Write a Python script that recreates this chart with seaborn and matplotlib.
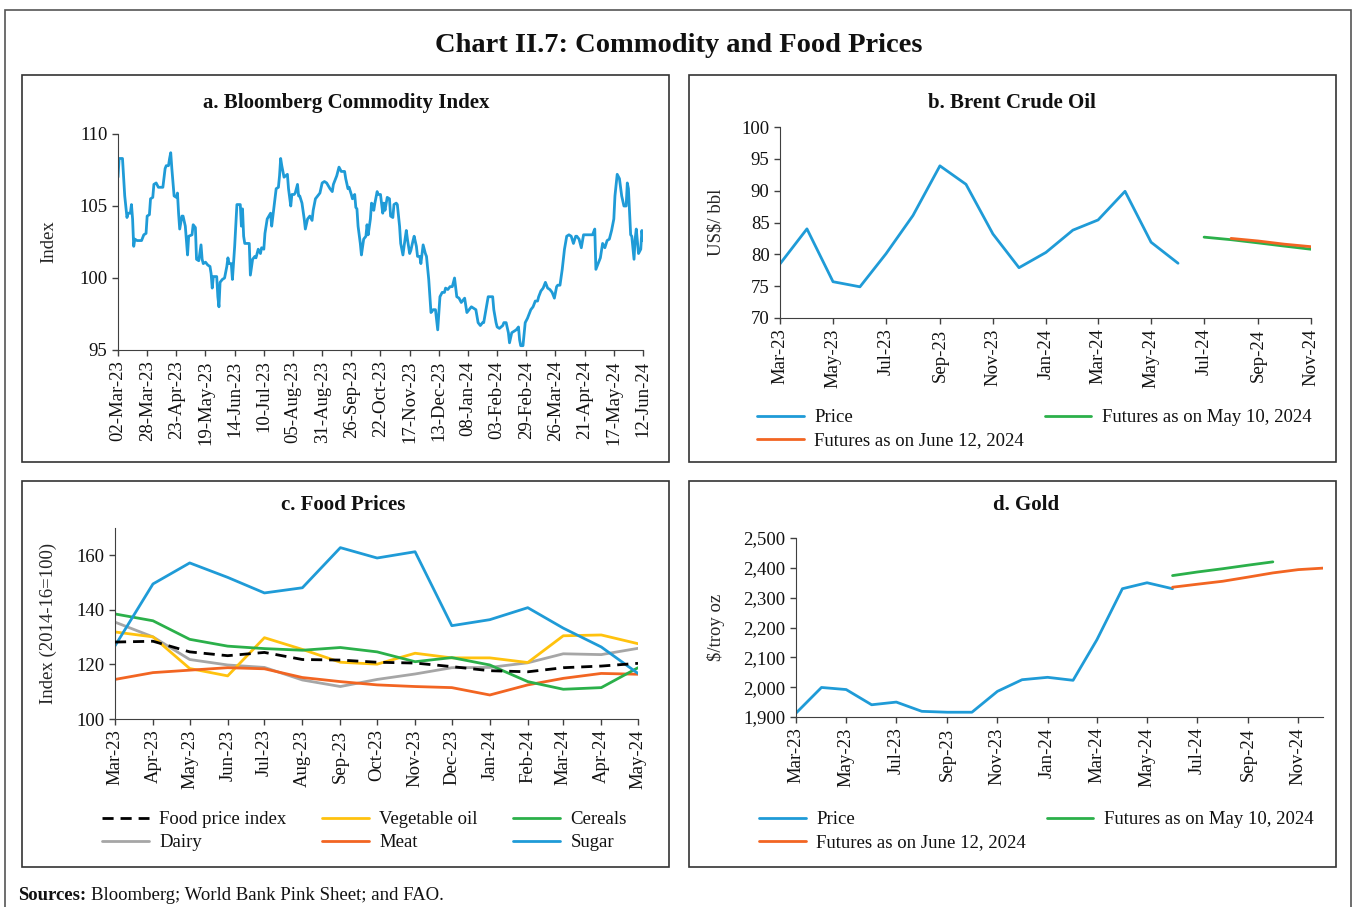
import matplotlib
matplotlib.use("Agg")
import matplotlib.pyplot as plt
import matplotlib.dates as mdates
from matplotlib.ticker import StrMethodFormatter
from matplotlib.patches import Rectangle
import seaborn as sns
import pandas as pd
import numpy as np

# ---------------- data ----------------
# a. Bloomberg Commodity Index (days after 02-Mar-2023, index value)
bci_days = [0, 1, 4, 6, 8, 9, 11, 12, 13, 14, 15, 17, 21, 23, 25, 26, 28, 29, 31, 32,
            34, 36, 40, 42, 43, 45, 46, 47, 48, 50, 52, 53, 54, 55, 57, 58, 60, 62, 63, 66,
            67, 69, 70, 72, 74, 75, 76, 78, 80, 82, 83, 84, 85, 88, 89, 90, 91, 93, 95, 97,
            98, 99, 101, 102, 104, 106, 109, 110, 111, 112, 113, 117, 118, 120, 122, 123, 125, 127, 128, 130,
            131, 133, 136, 137, 139, 141, 143, 144, 145, 146, 148, 151, 152, 154, 155, 157, 158, 160, 161, 162,
            164, 166, 167, 169, 171, 173, 174, 176, 178, 180, 182, 184, 186, 189, 191, 192, 194, 195, 197, 199,
            202, 203, 205, 206, 208, 209, 211, 212, 213, 214, 216, 217, 219, 221, 222, 223, 225, 226, 227, 228,
            229, 231, 232, 234, 236, 237, 238, 240, 242, 243, 245, 246, 248, 249, 251, 252, 254, 255, 257, 258,
            260, 261, 263, 264, 266, 267, 269, 270, 272, 274, 275, 277, 279, 281, 283, 285, 287, 289, 291, 292,
            294, 296, 298, 300, 302, 304, 306, 308, 309, 311, 313, 315, 317, 319, 321, 323, 325, 326, 328, 330,
            332, 334, 335, 337, 338, 340, 343, 344, 346, 348, 349, 351, 353, 355, 357, 358, 359, 361, 363, 365,
            366, 368, 370, 372, 374, 375, 377, 379, 381, 383, 385, 387, 389, 391, 392, 394, 396, 398, 400, 402,
            404, 406, 408, 409, 411, 413, 415, 417, 419, 421, 423, 425, 426, 428, 430, 432, 434, 436, 438, 440,
            442, 443, 445, 447, 449, 451, 453, 454, 455, 457, 458, 460, 461, 462, 464, 466, 467, 468]
bci_values = [107.0, 108.3, 108.3, 105.7, 104.2, 104.5, 104.5, 105.1, 104.1, 102.2, 102.7, 102.6, 102.6, 103.0, 103.1, 104.3, 104.4, 105.5, 105.6, 106.5,
              106.6, 106.3, 106.3, 107.6, 107.8, 107.8, 108.3, 108.7, 107.6, 105.7, 105.6, 105.9, 104.5, 103.4, 104.3, 104.3, 103.6, 101.6, 102.9, 103.0,
              103.7, 103.5, 101.3, 101.2, 102.3, 101.3, 101.0, 101.1, 100.9, 100.8, 100.3, 99.3, 100.1, 100.1, 98.7, 98.0, 99.7, 99.9, 100.0, 100.8,
              101.4, 101.0, 101.0, 99.9, 102.2, 105.1, 105.1, 103.6, 104.8, 102.9, 102.4, 102.4, 100.2, 101.3, 101.5, 101.4, 102.0, 101.7, 102.1, 102.0,
              103.1, 104.1, 104.5, 103.6, 104.9, 106.2, 106.3, 107.1, 108.3, 107.8, 107.0, 107.2, 106.2, 105.0, 105.8, 105.8, 105.9, 106.5, 105.7, 105.7,
              105.2, 104.1, 103.4, 104.1, 104.3, 104.0, 104.7, 105.5, 105.7, 105.9, 106.6, 106.7, 106.6, 106.2, 106.0, 106.5, 106.9, 107.1, 107.7, 107.4,
              107.4, 106.9, 106.2, 106.3, 105.8, 105.5, 105.8, 104.9, 104.8, 103.6, 102.4, 101.6, 102.7, 102.9, 103.7, 103.0, 104.1, 105.2, 105.1, 104.7,
              105.2, 106.0, 105.8, 105.8, 104.5, 105.2, 104.7, 105.6, 105.5, 104.3, 104.2, 105.1, 105.2, 105.1, 103.6, 102.4, 101.6, 102.2, 103.3, 102.7,
              101.7, 101.9, 102.6, 102.9, 102.2, 101.5, 101.5, 101.0, 102.3, 101.7, 101.5, 99.9, 97.6, 97.8, 97.8, 96.4, 98.7, 99.0, 99.0, 99.3,
              99.2, 99.4, 99.4, 100.0, 98.7, 98.6, 98.3, 98.5, 98.6, 97.6, 97.8, 98.0, 97.9, 97.8, 96.9, 96.7, 96.9, 96.9, 97.8, 98.7,
              98.7, 98.7, 97.8, 96.9, 96.6, 96.5, 96.7, 96.9, 96.9, 96.2, 95.5, 96.2, 96.3, 96.4, 96.6, 95.7, 95.3, 95.3, 96.9, 97.2,
              97.4, 97.8, 98.0, 98.4, 98.4, 98.7, 99.1, 99.3, 99.7, 99.3, 99.2, 99.0, 98.6, 99.4, 99.5, 99.5, 100.6, 102.0, 102.9, 103.0,
              102.9, 102.4, 102.9, 102.9, 102.7, 102.1, 103.0, 103.0, 103.0, 103.0, 103.0, 103.4, 100.6, 101.0, 101.4, 102.4, 102.1, 102.6, 102.7, 103.3,
              104.1, 105.7, 107.2, 106.9, 105.7, 105.0, 105.0, 106.6, 106.2, 103.0, 102.9, 101.3, 102.7, 103.4, 101.7, 102.0, 103.3, 102.6]

# b. Brent crude oil, monthly Mar-23 .. Jun-24 (US$/bbl)
brent_price = [78.5, 84.0, 75.7, 74.9, 80.1, 86.1, 93.9, 91.0, 83.2, 77.9, 80.3, 83.8, 85.4, 89.9, 81.9, 78.6]
brent_fut_may = [82.7, 82.3, 81.8, 81.3, 80.8]      # Jul-24 .. Nov-24
brent_fut_jun = [82.5, 82.1, 81.6, 81.2]            # Aug-24 .. Nov-24

# c. Food prices, monthly Mar-23 .. May-24 (2014-16=100)
food_index = [128.2, 128.5, 124.6, 123.2, 124.4, 121.8, 121.6, 120.8, 120.5, 119.2, 117.7, 117.3, 118.8, 119.4, 120.4]
veg_oil = [131.9, 130.1, 118.5, 115.8, 129.8, 125.5, 120.8, 120.1, 124.1, 122.4, 122.4, 120.7, 130.5, 130.8, 127.6]
cereals = [138.5, 136.0, 129.2, 126.7, 125.8, 125.2, 126.2, 124.6, 121.0, 122.5, 119.8, 113.7, 110.9, 111.5, 118.8]
dairy = [135.5, 130.1, 121.8, 119.8, 118.9, 114.3, 111.9, 114.5, 116.5, 118.8, 118.9, 120.6, 123.9, 123.6, 125.9]
meat = [114.5, 117.0, 117.9, 118.8, 118.4, 115.2, 113.7, 112.5, 111.9, 111.5, 108.8, 112.5, 114.9, 116.7, 116.4]
sugar = [126.8, 149.5, 157.2, 151.9, 146.2, 148.1, 162.8, 159.0, 161.3, 134.2, 136.4, 140.8, 133.3, 126.4, 116.7]

# d. Gold, monthly Mar-23 .. Jun-24 ($/troy oz)
gold_price = [1913, 1999, 1992, 1941, 1950, 1919, 1916, 1916, 1986, 2025, 2033, 2023, 2159, 2330, 2350, 2330]
gold_fut_may = [2374, 2386, 2397, 2409, 2420]                 # Jun-24 .. Oct-24
gold_fut_jun = [2335, 2345, 2355, 2369, 2383, 2394, 2399]     # Jun-24 .. Dec-24

# ---------------- style ----------------
sns.set_style("ticks")
plt.rcParams['font.family'] = ['Liberation Serif', 'DejaVu Serif']
plt.rcParams['axes.edgecolor'] = '#404040'
plt.rcParams['text.color'] = '#111111'

BLUE = '#1f9bd7'
GREEN = '#2bb04a'
ORANGE = '#f26522'
YELLOW = '#ffc20e'
GREY = '#a6a6a6'
FS = 13.5

W, H = 1354, 907
fig = plt.figure(figsize=(W / 100, H / 100), dpi=100)


def px_axes(l, t, r, b):
    return fig.add_axes([l / W, 1 - b / H, (r - l) / W, (b - t) / H])


def fx(x):
    return x / W


def fy(y):
    return 1 - y / H


def style_ax(ax, ylabel, label_x):
    sns.despine(ax=ax)
    ax.tick_params(labelsize=FS, length=4, width=1, colors='#404040', labelcolor='#111111')
    ax.set_ylabel(ylabel, fontsize=FS)
    ax.yaxis.set_label_coords(label_x, 0.5)
    ax.set_xlabel('')
    for lab in ax.get_xticklabels():
        lab.set_rotation(90)


def add_legend(ax, x, y, ncol, colsp):
    ax.legend(loc='upper left', bbox_to_anchor=(fx(x), fy(y)), bbox_transform=fig.transFigure,
              ncol=ncol, frameon=False, fontsize=FS, handlelength=2.5, handletextpad=0.55,
              columnspacing=colsp, labelspacing=0.33, borderpad=0, borderaxespad=0)


# panel frames + outer frame
for (l, t, r, b) in [(22, 75, 669, 462), (689, 75, 1336, 462), (22, 481, 669, 867), (689, 481, 1336, 867)]:
    fig.add_artist(Rectangle((fx(l), fy(b)), (r - l) / W, (b - t) / H, transform=fig.transFigure,
                             fill=False, edgecolor='#333333', lw=1.2))
fig.add_artist(Rectangle((fx(5), fy(930)), (1351 - 5) / W, (930 - 10) / H, transform=fig.transFigure,
                         fill=False, edgecolor='#555555', lw=1.2))

fig.text(fx(679), fy(45), 'Chart II.7: Commodity and Food Prices', ha='center', va='center',
         fontsize=20.5, fontweight='bold')

# ---- a. Bloomberg Commodity Index
start_a = pd.Timestamp('2023-03-02')
bci_dates = start_a + pd.to_timedelta(bci_days, unit='D')
ax = px_axes(118, 134, 643, 350)
sns.lineplot(x=bci_dates, y=bci_values, ax=ax, color=BLUE, lw=2)
ticks_a = pd.date_range(start_a, periods=19, freq='26D')
ax.set_xticks(ticks_a)
ax.xaxis.set_major_formatter(mdates.DateFormatter('%d-%b-%y'))
ax.set_xlim(ticks_a[0], ticks_a[-1])
ax.set_ylim(95, 110)
ax.set_yticks([95, 100, 105, 110])
style_ax(ax, 'Index', (57 - 118) / 525)
fig.text(fx(346), fy(103), 'a. Bloomberg Commodity Index', ha='center', va='center', fontsize=15, fontweight='bold')

# ---- b. Brent crude oil
months_price = pd.date_range('2023-03-01', periods=len(brent_price), freq='MS')
ax = px_axes(780, 127, 1311, 318)
sns.lineplot(x=months_price, y=brent_price, ax=ax, color=BLUE, lw=2, label='Price')
sns.lineplot(x=pd.date_range('2024-08-01', periods=len(brent_fut_jun), freq='MS'), y=brent_fut_jun, ax=ax,
             color=ORANGE, lw=2, label='Futures as on June 12, 2024')
sns.lineplot(x=pd.date_range('2024-07-01', periods=len(brent_fut_may), freq='MS'), y=brent_fut_may, ax=ax,
             color=GREEN, lw=2, label='Futures as on May 10, 2024', zorder=1)
ticks_b = pd.date_range('2023-03-01', '2024-11-01', freq='2MS')
ax.set_xticks(ticks_b)
ax.xaxis.set_major_formatter(mdates.DateFormatter('%b-%y'))
ax.set_xlim(ticks_b[0], ticks_b[-1])
ax.set_ylim(70, 100)
ax.set_yticks(range(70, 101, 5))
style_ax(ax, 'US$/ bbl', (725 - 780) / 531)
add_legend(ax, 757, 409, 2, 1.1)
fig.text(fx(1012), fy(103), 'b. Brent Crude Oil', ha='center', va='center', fontsize=15, fontweight='bold')

# ---- c. Food prices
months_food = pd.date_range('2023-03-01', periods=len(food_index), freq='MS')
ax = px_axes(115, 528, 638, 719)
sns.lineplot(x=months_food, y=food_index, ax=ax, color='black', lw=2, linestyle=(0, (4, 2.5)),
             label='Food price index', zorder=5)
sns.lineplot(x=months_food, y=dairy, ax=ax, color=GREY, lw=2, label='Dairy')
sns.lineplot(x=months_food, y=veg_oil, ax=ax, color=YELLOW, lw=2, label='Vegetable oil')
sns.lineplot(x=months_food, y=meat, ax=ax, color=ORANGE, lw=2, label='Meat')
sns.lineplot(x=months_food, y=cereals, ax=ax, color=GREEN, lw=2, label='Cereals')
sns.lineplot(x=months_food, y=sugar, ax=ax, color=BLUE, lw=2, label='Sugar')
ax.set_xticks(months_food)
ax.xaxis.set_major_formatter(mdates.DateFormatter('%b-%y'))
ax.set_xlim(months_food[0], months_food[-1])
ax.set_ylim(100, 170)
ax.set_yticks([100, 120, 140, 160])
style_ax(ax, 'Index (2014-16=100)', (57 - 115) / 523)
add_legend(ax, 102, 811, 3, 1.9)
fig.text(fx(343), fy(505), 'c. Food Prices', ha='center', va='center', fontsize=15, fontweight='bold')

# ---- d. Gold
ax = px_axes(796, 538, 1323, 717)
sns.lineplot(x=months_price, y=gold_price, ax=ax, color=BLUE, lw=2, label='Price')
sns.lineplot(x=pd.date_range('2024-06-01', periods=len(gold_fut_jun), freq='MS'), y=gold_fut_jun, ax=ax,
             color=ORANGE, lw=2, label='Futures as on June 12, 2024')
sns.lineplot(x=pd.date_range('2024-06-01', periods=len(gold_fut_may), freq='MS'), y=gold_fut_may, ax=ax,
             color=GREEN, lw=2, label='Futures as on May 10, 2024')
ticks_d = pd.date_range('2023-03-01', '2024-11-01', freq='2MS')
ax.set_xticks(ticks_d)
ax.xaxis.set_major_formatter(mdates.DateFormatter('%b-%y'))
ax.set_xlim(pd.Timestamp('2023-03-01'), pd.Timestamp('2024-12-01'))
ax.set_ylim(1900, 2500)
ax.set_yticks(range(1900, 2501, 100))
ax.yaxis.set_major_formatter(StrMethodFormatter('{x:,.0f}'))
style_ax(ax, '$/troy oz', (725 - 796) / 527)
add_legend(ax, 759, 811, 2, 1.1)
fig.text(fx(1026), fy(505), 'd. Gold', ha='center', va='center', fontsize=15, fontweight='bold')

# sources
fig.text(fx(18), fy(896), 'Sources:', ha='left', va='center', fontsize=FS, fontweight='bold')
fig.text(fx(91), fy(896), 'Bloomberg; World Bank Pink Sheet; and FAO.', ha='left', va='center', fontsize=FS)

fig.savefig('out.png', dpi=100)
